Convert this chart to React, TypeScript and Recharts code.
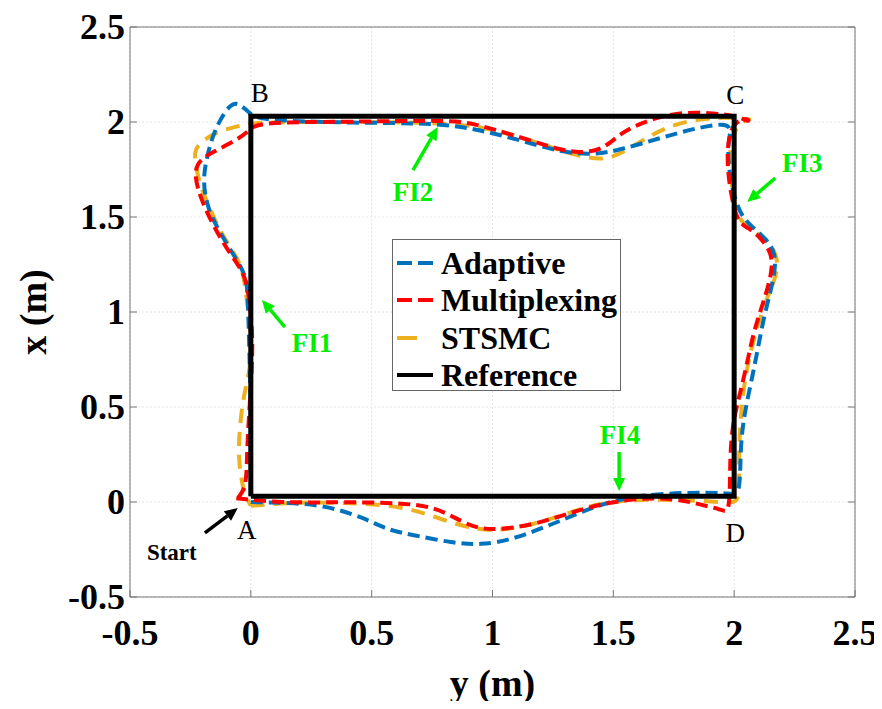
import { LineChart, Line, XAxis, YAxis, CartesianGrid, Legend, ReferenceDot, ReferenceLine } from 'recharts';

// [y, x] pairs: horizontal axis is y (m), vertical axis is x (m)
const ticks = [-0.5, 0, 0.5, 1, 1.5, 2, 2.5];

const adaptive: [number, number][] = [
  [0, 0], [0.15, -0.004], [0.298, -0.016], [0.464, -0.079], [0.563, -0.147], [0.671, -0.174], [0.836, -0.216],
  [0.948, -0.226], [1.085, -0.2], [1.309, -0.084], [1.45, -0.01], [1.6, 0.035], [1.8, 0.05], [1.98, 0.05], [2.025, 0.026],
  [2.025, 0.258], [2.037, 0.43], [2.066, 0.605], [2.095, 0.784], [2.12, 0.958], [2.149, 1.1], [2.17, 1.22],
  [2.17, 1.31], [2.137, 1.379], [2.079, 1.442], [2.025, 1.51], [1.992, 1.642], [1.975, 1.784], [1.975, 1.905],
  [1.996, 2.0], [1.859, 1.974], [1.694, 1.916], [1.528, 1.853], [1.416, 1.826], [1.28, 1.842], [1.114, 1.905],
  [0.948, 1.958], [0.783, 1.995], [0.398, 1.995], [0.025, 2.01], [-0.004, 2.047], [-0.054, 2.105], [-0.087, 2.09],
  [-0.128, 2.01], [-0.157, 1.93], [-0.182, 1.816], [-0.199, 1.695], [-0.182, 1.553], [-0.128, 1.416],
  [-0.058, 1.274], [-0.017, 1.184], [-0.012, 1.063], [0, 0.537], [0, 0.026],
];

const multiplexing: [number, number][] = [
  [-0.06, 0.02], [0.12, -0.005], [0.369, 0], [0.7, -0.005], [0.812, -0.058], [0.919, -0.137], [1.019, -0.147],
  [1.168, -0.121], [1.333, -0.053], [1.45, -0.01], [1.6, 0.02], [1.75, 0.02], [1.85, -0.01], [1.95, -0.04],
  [1.975, -0.06], [1.983, 0.05], [1.983, 0.258], [1.996, 0.43], [2.025, 0.574], [2.054, 0.732], [2.079, 0.89],
  [2.12, 1.047], [2.157, 1.205], [2.157, 1.31], [2.108, 1.395], [2.054, 1.447], [2.012, 1.474], [1.983, 1.642],
  [1.971, 1.784], [1.975, 1.905], [1.996, 1.995], [2.054, 2.026], [2.066, 1.995], [2.02, 2.03], [1.913, 2.047],
  [1.776, 2.053], [1.64, 2.01], [1.528, 1.942], [1.458, 1.853], [1.362, 1.837], [1.28, 1.853], [1.114, 1.92],
  [0.919, 1.995], [0.812, 2.01], [0.398, 2.0], [0.025, 2.0], [-0.004, 1.958], [-0.058, 1.905], [-0.157, 1.842],
  [-0.211, 1.8], [-0.232, 1.747], [-0.224, 1.658], [-0.182, 1.521], [-0.116, 1.363], [-0.046, 1.237],
  [-0.017, 1.168], [0.004, 0.958], [0.008, 0.784], [-0.004, 0.521], [-0.017, 0.258], [-0.017, 0.079], [-0.054, 0.02],
];

const stsmc: [number, number][] = [
  [0, -0.02], [0.2, 0], [0.45, -0.005], [0.646, -0.026], [0.795, -0.095], [0.936, -0.147], [1.03, -0.15],
  [1.17, -0.12], [1.33, -0.05], [1.45, -0.005], [1.6, 0.015], [1.8, 0.01], [1.95, 0.0], [2.02, -0.01],
  [2.02, 0.1], [2.02, 0.3], [2.03, 0.5], [2.05, 0.7], [2.09, 0.9], [2.13, 1.06], [2.18, 1.2], [2.18, 1.3],
  [2.13, 1.39], [2.06, 1.44], [2.01, 1.5], [1.99, 1.65], [1.98, 1.8], [1.99, 1.95], [2.05, 2.02], [2.08, 2.01],
  [1.95, 2.03], [1.76, 2.0], [1.62, 1.905], [1.49, 1.8], [1.4, 1.81], [1.3, 1.84], [1.1, 1.93], [0.9, 1.99],
  [0.6, 2.0], [0.3, 2.0], [0.03, 2.0], [-0.05, 1.98], [-0.14, 1.95], [-0.2, 1.9], [-0.24, 1.85], [-0.22, 1.72],
  [-0.2, 1.63], [-0.116, 1.39], [-0.037, 1.26], [-0.02, 1.1], [0, 0.9], [0, 0.7], [-0.03, 0.57], [-0.05, 0.35],
  [-0.05, 0.2], [-0.03, 0.05], [0, -0.02],
];

const reference: [number, number][] = [[0, 0.03], [0, 2.03], [2, 2.03], [2, 0.03], [0, 0.03]];

const cornerLabels = [
  { text: 'A', y: -0.017, x: -0.147 },
  { text: 'B', y: 0.037, x: 2.153 },
  { text: 'C', y: 2.004, x: 2.142 },
  { text: 'D', y: 2.004, x: -0.163 },
];

const faultLabels = [
  { text: 'FI1', y: 0.253, x: 0.837 },
  { text: 'FI2', y: 0.671, x: 1.632 },
  { text: 'FI3', y: 2.282, x: 1.784 },
  { text: 'FI4', y: 1.528, x: 0.353 },
];

const startLabel = { text: 'Start', y: -0.327, x: -0.268 };

const arrows = [
  { from: [-0.19, -0.163], to: [-0.054, -0.032], color: '#000000' },
  { from: [0.141, 0.921], to: [0.046, 1.063], color: '#00ee00' },
  { from: [0.671, 1.747], to: [0.774, 1.974], color: '#00ee00' },
  { from: [2.17, 1.705], to: [2.054, 1.579], color: '#00ee00' },
  { from: [1.524, 0.263], to: [1.524, 0.058], color: '#00ee00' },
];

const series = [
  { name: 'STSMC', data: stsmc, color: '#EDB120', dash: '14 9' },
  { name: 'Adaptive', data: adaptive, color: '#0072BD', dash: '12 6' },
  { name: 'Multiplexing', data: multiplexing, color: '#FF0000', dash: '12 6' },
];

const legendItems = [
  { name: 'Adaptive', color: '#0072BD', dash: '15 6', width: 4 },
  { name: 'Multiplexing', color: '#FF0000', dash: '15 6', width: 4 },
  { name: 'STSMC', color: '#EDB120', dash: '20 30', width: 4 },
  { name: 'Reference', color: '#000000', dash: undefined, width: 4 },
];

const toPoints = (arr: [number, number][]) => arr.map(([y, x]) => ({ y, x }));

const FONT = "'Liberation Serif', 'Times New Roman', serif";
const AXIS = '#777777';

const BottomTick = (props: any) => {
  const { x, y, payload } = props;
  return (
    <g>
      <line x1={x} y1={y} x2={x} y2={y - 7} stroke={AXIS} />
      <text x={x} y={y + 36} textAnchor="middle" dominantBaseline="central" fontFamily={FONT} fontWeight="bold" fontSize={36} fill="#000">
        {String(payload.value)}
      </text>
    </g>
  );
};

const LeftTick = (props: any) => {
  const { x, y, payload } = props;
  return (
    <g>
      <line x1={x} y1={y} x2={x + 7} y2={y} stroke={AXIS} />
      <text x={x - 5} y={y} textAnchor="end" dominantBaseline="central" fontFamily={FONT} fontWeight="bold" fontSize={36} fill="#000">
        {String(payload.value)}
      </text>
    </g>
  );
};

const Arrow = (props: any) => {
  const { x1, y1, x2, y2, color } = props;
  const dx = x2 - x1;
  const dy = y2 - y1;
  const len = Math.sqrt(dx * dx + dy * dy) || 1;
  const ux = dx / len;
  const uy = dy / len;
  const hl = 13;
  const hw = 6;
  const bx = x2 - ux * hl;
  const by = y2 - uy * hl;
  return (
    <g>
      <line x1={x1} y1={y1} x2={bx} y2={by} stroke={color} strokeWidth={3.5} />
      <polygon
        points={`${x2},${y2} ${bx - uy * hw},${by + ux * hw} ${bx + uy * hw},${by - ux * hw}`}
        fill={color}
      />
    </g>
  );
};

const LegendBox = () => (
  <div style={{ width: 227, height: 150, border: '1px solid #666', background: '#fff', boxSizing: 'content-box' }}>
    <div style={{ height: 4 }} />
    {legendItems.map((it) => (
      <div key={it.name} style={{ display: 'flex', alignItems: 'center', height: 37.5 }}>
        <svg width={48} height={10} style={{ flex: 'none' }}>
          <line x1={4} y1={5} x2={40} y2={5} stroke={it.color} strokeWidth={it.width} strokeDasharray={it.dash} />
        </svg>
        <span style={{ fontFamily: FONT, fontWeight: 'bold', fontSize: 32, color: '#000', lineHeight: 1, whiteSpace: 'nowrap' }}>{it.name}</span>
      </div>
    ))}
  </div>
);

export default function App() {
  return (
    <div style={{ height: 693, overflow: 'visible' }}>
      <LineChart width={874} height={701} margin={{ top: 19, right: 27, bottom: 8, left: 0 }}>
        <CartesianGrid stroke="#e4e4e4" strokeDasharray="2 2" />
        <XAxis
          dataKey="y"
          type="number"
          domain={[-0.5, 2.5]}
          ticks={ticks}
          allowDataOverflow
          height={104}
          stroke={AXIS}
          tickLine={false}
          tickSize={0}
          tickMargin={0}
          tick={<BottomTick />}
          label={{
            content: (p: any) => {
              const vb = p.viewBox;
              return (
                <text x={vb.x + vb.width / 2} y={vb.y + 86} textAnchor="middle" dominantBaseline="central" fontFamily={FONT} fontWeight="bold" fontSize={38} fill="#000">
                  y (m)
                </text>
              );
            },
          }}
        />
        <YAxis
          dataKey="x"
          type="number"
          domain={[-0.5, 2.5]}
          ticks={ticks}
          allowDataOverflow
          width={122}
          stroke={AXIS}
          tickLine={false}
          tickSize={0}
          tickMargin={0}
          tick={<LeftTick />}
          label={{
            content: (p: any) => {
              const vb = p.viewBox;
              const cx = vb.x + 25;
              const cy = vb.y + vb.height / 2;
              return (
                <text x={cx} y={cy} transform={`rotate(-90 ${cx} ${cy})`} textAnchor="middle" dominantBaseline="central" fontFamily={FONT} fontWeight="bold" fontSize={38} fill="#000">
                  x (m)
                </text>
              );
            },
          }}
        />
        <XAxis xAxisId="top" orientation="top" type="number" domain={[-0.5, 2.5]} ticks={ticks} allowDataOverflow mirror stroke={AXIS} tickSize={7} tick={() => <g />} />
        <YAxis yAxisId="right" orientation="right" type="number" domain={[-0.5, 2.5]} ticks={ticks} allowDataOverflow mirror stroke={AXIS} tickSize={7} tick={() => <g />} />

        {series.map((s) => (
          <Line
            key={s.name}
            name={s.name}
            data={toPoints(s.data)}
            dataKey="x"
            type="basis"
            stroke={s.color}
            strokeWidth={4}
            strokeDasharray={s.dash}
            dot={false}
            activeDot={false}
            isAnimationActive={false}
          />
        ))}
        <Line
          name="Reference"
          data={toPoints(reference)}
          dataKey="x"
          type="linear"
          stroke="#000"
          strokeWidth={5}
          dot={false}
          activeDot={false}
          isAnimationActive={false}
        />

        {arrows.map((a, i) => (
          <ReferenceLine
            key={`arrow-${i}`}
            segment={[{ x: a.from[0], y: a.from[1] }, { x: a.to[0], y: a.to[1] }]}
            shape={(p: any) => <Arrow {...p} color={a.color} />}
          />
        ))}
        {cornerLabels.map((l) => (
          <ReferenceDot
            key={l.text}
            x={l.y}
            y={l.x}
            r={0}
            shape={(p: any) => (
              <text x={p.cx} y={p.cy} textAnchor="middle" dominantBaseline="central" fontFamily={FONT} fontSize={27} fill="#000">
                {l.text}
              </text>
            )}
          />
        ))}
        {faultLabels.map((l) => (
          <ReferenceDot
            key={l.text}
            x={l.y}
            y={l.x}
            r={0}
            shape={(p: any) => (
              <text x={p.cx} y={p.cy} textAnchor="middle" dominantBaseline="central" fontFamily={FONT} fontWeight="bold" fontSize={27} fill="#00ee00">
                {l.text}
              </text>
            )}
          />
        ))}
        <ReferenceDot
          x={startLabel.y}
          y={startLabel.x}
          r={0}
          shape={(p: any) => (
            <text x={p.cx} y={p.cy} textAnchor="middle" dominantBaseline="central" fontFamily={FONT} fontWeight="bold" fontSize={23} fill="#000">
              {startLabel.text}
            </text>
          )}
        />
        <Legend
          layout="vertical"
          align="center"
          verticalAlign="middle"
          content={<LegendBox />}
          wrapperStyle={{ left: 384, top: 231, width: 'auto' }}
        />
      </LineChart>
    </div>
  );
}
